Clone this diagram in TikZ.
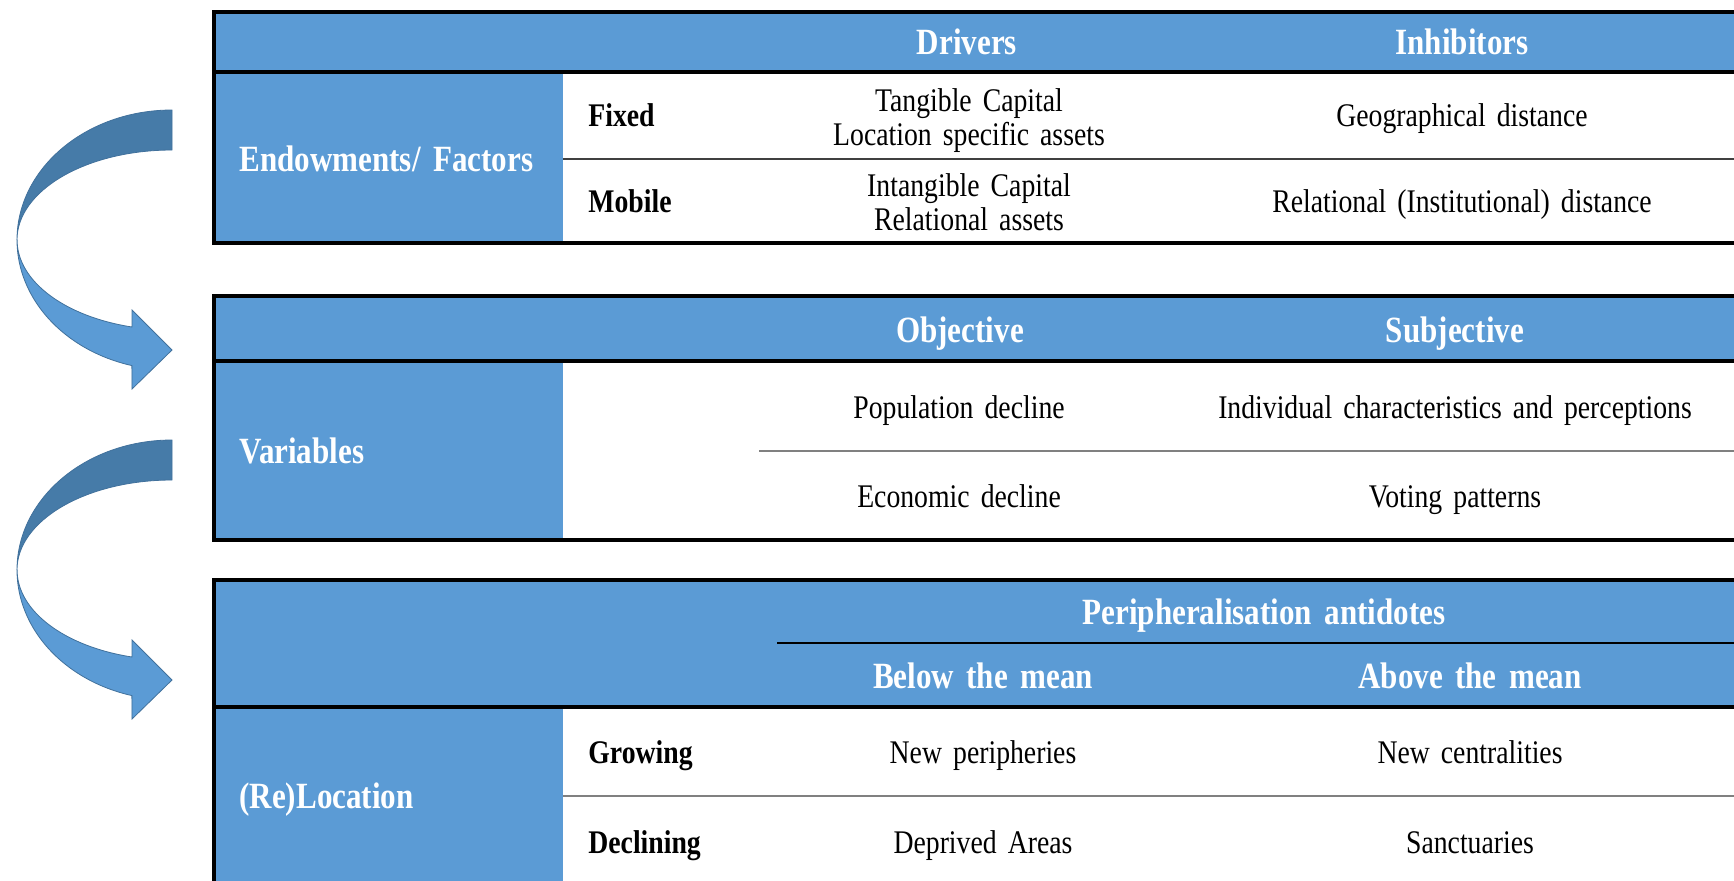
\documentclass[tikz,border=0pt]{standalone}
\usepackage{fontspec}
\setmainfont{Liberation Serif}[FakeStretch=0.84,WordSpace=1.6]

\definecolor{cellblue}{HTML}{5B9BD5}
\definecolor{arrowdark}{HTML}{467BA8}
\definecolor{arrowedge}{HTML}{41719C}
\definecolor{ruleline}{HTML}{808080}

\tikzset{
  band/.style = {fill=cellblue},
  frame/.style = {line width=2.3pt, draw=black},
  rowrule/.style = {line width=0.8pt, draw=ruleline},
  oneline/.style = {text height=1.06em, text depth=0pt},
  headtext/.style = {oneline, text height=1.14em, text=white, inner sep=0pt,
    font=\bfseries\fontsize{18.5}{22}\selectfont},
  sidetext/.style = {headtext, anchor=west},
  rowtext/.style = {oneline, inner sep=0pt, anchor=west,
    font=\bfseries\fontsize{16.5}{20}\selectfont},
  pairtext/.style = {inner sep=0pt, align=center,
    font=\fontsize{16.5}{17}\selectfont},
  celltext/.style = {pairtext, oneline},
  turnback/.style = {fill=arrowdark, draw=arrowedge, line width=0.4pt},
  turnfront/.style = {fill=cellblue, draw=arrowedge, line width=0.4pt}
}

\begin{document}
\begin{tikzpicture}[x=0.5pt, y=-0.5pt]

  \useasboundingbox (0,0) rectangle (1734,880);
  \clip (0,0) rectangle (1734,880);

  % curved arrows, back face dark and front face light
  \foreach \cy in {240,570} {
    \draw[turnback] (172,\cy-130)
      arc[start angle=-90, end angle=-180, x radius=155, y radius=130]
      arc[start angle=180, end angle=270, x radius=155, y radius=90]
      -- cycle;
    \draw[turnfront] (17,\cy)
      arc[start angle=180, end angle=105, x radius=155, y radius=130]
      -- (132,\cy+149) -- (172,\cy+110) -- (132,\cy+70)
      -- (132,\cy+87)
      arc[start angle=105, end angle=180, x radius=155, y radius=90]
      -- cycle;
  }

  % endowments block
  \fill[band] (214,12) rectangle (1760,72);
  \fill[band] (214,72) rectangle (563,243);
  \draw[rowrule, draw=black!75] (563,159) -- (1760,159);
  \draw[frame] (1760,12) -- (214,12) -- (214,243) -- (1760,243);
  \draw[frame] (214,72) -- (1760,72);

  \node[headtext] (drivers) at (967,43) {Drivers};
  \node[headtext] (inhib) at (1462,43) {Inhibitors};
  \node[sidetext] (endow) at (239,160) {Endowments/ Factors};
  \node[rowtext] (fixed) at (588,116) {Fixed};
  \node[rowtext] (mobile) at (588,202) {Mobile};
  \node[pairtext] (tangible) at (969,121) {Tangible Capital\\Location specific assets};
  \node[pairtext] (intangible) at (969,202) {Intangible Capital\\Relational assets};
  \node[celltext] (geodist) at (1462,116) {Geographical distance};
  \node[celltext] (reldist) at (1462,202) {Relational (Institutional) distance};

  % variables block
  \fill[band] (214,296) rectangle (1760,361);
  \fill[band] (214,361) rectangle (563,540);
  \draw[rowrule] (759,451) -- (1760,451);
  \draw[frame] (1760,296) -- (214,296) -- (214,540) -- (1760,540);
  \draw[frame] (214,361) -- (1760,361);

  \node[headtext] (objective) at (960,331) {Objective};
  \node[headtext] (subjective) at (1455,331) {Subjective};
  \node[sidetext] (variables) at (239,452) {Variables};
  \node[celltext] (popdecl) at (959,408) {Population decline};
  \node[celltext] (ecodecl) at (959,497) {Economic decline};
  \node[celltext] (percept) at (1455,408) {Individual characteristics and perceptions};
  \node[celltext] (voting) at (1455,497) {Voting patterns};

  % (re)location block
  \fill[band] (214,580) rectangle (1760,707);
  \fill[band] (214,707) rectangle (563,900);
  \draw[line width=0.6pt] (777,643) -- (1760,643);
  \draw[rowrule] (563,796) -- (1760,796);
  \draw[frame] (1760,580) -- (214,580) -- (214,900);
  \draw[frame] (214,707) -- (1760,707);

  \node[headtext] (antidotes) at (1264,613) {Peripheralisation antidotes};
  \node[headtext] (below) at (983,677) {Below the mean};
  \node[headtext] (above) at (1470,677) {Above the mean};
  \node[sidetext] (reloc) at (239,797) {(Re)Location};
  \node[rowtext] (growing) at (588,753) {Growing};
  \node[rowtext] (declining) at (588,843) {Declining};
  \node[celltext] (newperi) at (983,753) {New peripheries};
  \node[celltext] (deprived) at (983,843) {Deprived Areas};
  \node[celltext] (newcentr) at (1470,753) {New centralities};
  \node[celltext] (sanct) at (1470,843) {Sanctuaries};

\end{tikzpicture}
\end{document}
